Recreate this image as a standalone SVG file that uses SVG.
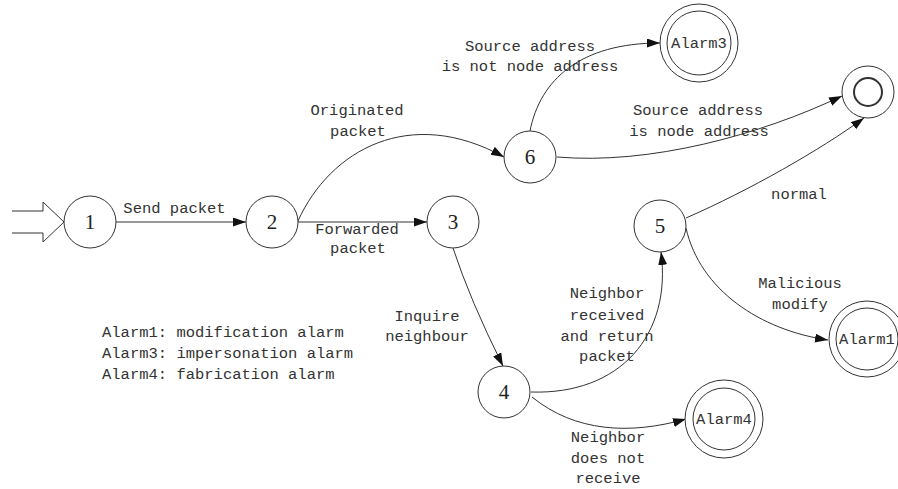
<svg xmlns="http://www.w3.org/2000/svg" width="898" height="489" viewBox="0 0 898 489">
<defs>
<marker id="arr" markerUnits="userSpaceOnUse" markerWidth="14" markerHeight="10" refX="13" refY="4.5" orient="auto">
<path d="M0,0 L13,4.5 L0,9 z" fill="#111"/>
</marker>
<style>
.n{fill:#fff;stroke:#333;stroke-width:1}
.e{fill:none;stroke:#333;stroke-width:1;marker-end:url(#arr)}
.t{font-family:"Liberation Mono","DejaVu Sans Mono",monospace;font-size:15.5px;fill:#333;text-anchor:middle}
.d{font-family:"Liberation Serif","DejaVu Serif",serif;font-size:21px;fill:#222;text-anchor:middle}
.l{font-family:"Liberation Mono","DejaVu Sans Mono",monospace;font-size:15.5px;fill:#333}
</style>
</defs>
<rect width="898" height="489" fill="#fff"/>
<g id="start">
<path d="M12,211 H43 V202 L64,222 L43,242 V233 H12" fill="none" stroke="#333" stroke-width="1"/>
</g>
<g id="connectors">
<path class="e" d="M116,222 L246,222"/>
<path class="e" d="M298,222 L427,222"/>
<path class="e" d="M298,221 C330,150 410,105 504,157"/>
<path class="e" d="M530,131 C540,80 580,43 660,43"/>
<path class="e" d="M557,157 C650,165 760,135 842,96"/>
<path class="e" d="M453,248 Q470,300 503,366"/>
<path class="e" d="M531,392 C620,395 672,335 661,252"/>
<path class="e" d="M532,397 C575,432 630,435 686,419"/>
<path class="e" d="M686,218 C750,190 820,150 864,118"/>
<path class="e" d="M686,228 C700,290 760,330 828,340"/>
</g>
<g id="labels">
<text class="t" x="174.5" y="213">Send packet</text>
<text class="t" x="357" y="115">Originated</text>
<text class="t" x="358" y="136">packet</text>
<text class="t" x="530" y="51">Source address</text>
<text class="t" x="530" y="71">is not node address</text>
<text class="t" x="698" y="115">Source address</text>
<text class="t" x="699" y="136">is node address</text>
<text class="t" x="357" y="234">Forwarded</text>
<text class="t" x="358" y="253">packet</text>
<text class="t" x="427" y="321">Inquire</text>
<text class="t" x="427" y="341">neighbour</text>
<text class="t" x="799" y="199">normal</text>
<text class="t" x="800" y="288">Malicious</text>
<text class="t" x="800" y="309">modify</text>
<text class="t" x="607" y="298">Neighbor</text>
<text class="t" x="607" y="320">received</text>
<text class="t" x="607" y="341">and return</text>
<text class="t" x="607" y="361">packet</text>
<text class="t" x="608" y="442">Neighbor</text>
<text class="t" x="608" y="463">does not</text>
<text class="t" x="608" y="483">receive</text>
</g>
<g id="legend">
<text class="l" x="102" y="337">Alarm1: modification alarm</text>
<text class="l" x="102" y="358">Alarm3: impersonation alarm</text>
<text class="l" x="102" y="379">Alarm4: fabrication alarm</text>
</g>
<g id="node1"><circle class="n" cx="90" cy="222" r="26"/><text class="d" x="90" y="229">1</text></g>
<g id="node2"><circle class="n" cx="272" cy="222" r="26"/><text class="d" x="272" y="229">2</text></g>
<g id="node3"><circle class="n" cx="453" cy="222" r="26"/><text class="d" x="453" y="229">3</text></g>
<g id="node4"><circle class="n" cx="504" cy="392" r="26"/><text class="d" x="504" y="399">4</text></g>
<g id="node5"><circle class="n" cx="660" cy="226" r="26"/><text class="d" x="660" y="233">5</text></g>
<g id="node6"><circle class="n" cx="530" cy="157" r="26"/><text class="d" x="530" y="164">6</text></g>
<g id="final"><circle class="n" cx="868" cy="92" r="26"/><circle cx="868" cy="92" r="14" fill="none" stroke="#333" stroke-width="2"/></g>
<g id="alarm3"><circle class="n" cx="699" cy="43" r="39"/><circle class="n" cx="699" cy="43" r="32"/><text class="t" x="699" y="48">Alarm3</text></g>
<g id="alarm4"><circle class="n" cx="724" cy="419" r="39"/><circle class="n" cx="724" cy="419" r="31"/><text class="t" x="724" y="424">Alarm4</text></g>
<g id="alarm1"><circle class="n" cx="867" cy="339" r="38"/><circle class="n" cx="867" cy="339" r="31"/><text class="t" x="867" y="344">Alarm1</text></g>
</svg>
